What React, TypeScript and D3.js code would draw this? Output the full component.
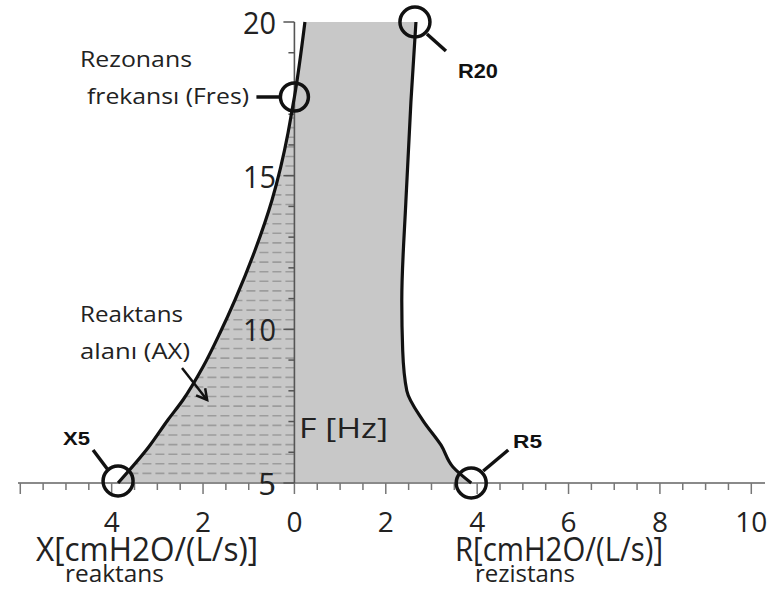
import React from "react";
import * as d3 from "d3";

const W = 771;
const H = 589;

// Reactance X (cmH2O/(L/s)) vs frequency (Hz)
const freqX = [5, 6.17, 7.05, 7.7, 8.78, 9.88, 10.96, 12.58, 14.21, 15.28, 16.39, 17.14, 17.56, 20];
const reactance = [-3.86, -3.19, -2.77, -2.44, -2.0, -1.63, -1.3, -0.86, -0.49, -0.3, -0.14, -0.05, 0, 0.23];

// Resistance R (cmH2O/(L/s)) vs frequency (Hz)
const freqR = [5, 5.52, 6.23, 7.04, 8.0, 9.31, 10.93, 14.17, 17.4, 20];
const resistance = [3.87, 3.47, 3.21, 2.81, 2.46, 2.37, 2.35, 2.44, 2.55, 2.66];

const xTickLabels = [-4, -2, 0, 2, 4, 6, 8, 10];
const yTickLabels = [5, 10, 15, 20];

const FONT = "'Open Sans', 'DejaVu Sans', sans-serif";
const BOLD = "'Liberation Sans', Arial, sans-serif";

export default function App() {
  const x = d3.scaleLinear().domain([-6.05, 10.3]).range([18, 765]);
  const y = d3.scaleLinear().domain([5, 20]).range([483, 22]);

  const reactPts: [number, number][] = freqX.map((f, i) => [reactance[i], f]);
  const resPts: [number, number][] = freqR.map((f, i) => [resistance[i], f]);

  const line = d3
    .line<[number, number]>()
    .x((d) => x(d[0]))
    .y((d) => y(d[1]))
    .curve(d3.curveMonotoneY);

  const reactPath = line(reactPts) as string;
  const resPath = line(resPts) as string;
  const fillPath =
    reactPath + (line(resPts.slice().reverse()) as string).replace(/^M/, "L") + "Z";

  const hatchPts = reactPts.filter((p) => p[0] <= 0);
  const hatchClip = (line(hatchPts) as string) + `L${x(0)},${y(5)}Z`;
  const hatchF = d3.range(5, 20.001, 0.3125);

  const xTicks = d3.range(-6, 10.001, 0.5);
  const yTicks = d3.range(5, 20.001, 1);

  // key points
  const x5 = [x(reactance[0]), y(freqX[0])];
  const fres = [x(0), y(freqX[reactance.indexOf(0)])];
  const r5 = [x(resistance[0]), y(freqR[0])];
  const r20 = [x(resistance[resistance.length - 1]), y(freqR[freqR.length - 1])];

  // arrow
  const a0 = [x(-2.46), y(8.74)];
  const a1 = [x(-1.91), y(7.7)];
  const ang = Math.atan2(a1[1] - a0[1], a1[0] - a0[0]);
  const hl = 12;
  const h1 = [a1[0] - hl * Math.cos(ang - 0.5), a1[1] - hl * Math.sin(ang - 0.5)];
  const h2 = [a1[0] - hl * Math.cos(ang + 0.5), a1[1] - hl * Math.sin(ang + 0.5)];

  const ink = "#111";

  return (
    <svg
      width={W}
      height={H}
      style={{ position: "absolute", left: 0, top: 0, background: "#fff" }}
    >
      <defs>
        <clipPath id="hatchClip">
          <path d={hatchClip} />
        </clipPath>
      </defs>

      {/* gray area */}
      <path d={fillPath} fill="#c8c8c8" stroke="none" />

      {/* hatch */}
      <g clipPath="url(#hatchClip)">
        {hatchF.map((f) => (
          <line
            key={f}
            x1={x(0)}
            x2={x(-6.05)}
            y1={y(f)}
            y2={y(f)}
            stroke="#9c9c9c"
            strokeWidth={1.6}
            strokeDasharray="9 4"
          />
        ))}
      </g>

      {/* x axis */}
      <line x1={18} x2={765} y1={y(5)} y2={y(5)} stroke="#8a8a8a" strokeWidth={2} />
      {xTicks.map((t) => {
        const major = Math.abs(t % 2) < 1e-6;
        return (
          <line
            key={t}
            x1={x(t)}
            x2={x(t)}
            y1={y(5)}
            y2={y(5) + (major ? 11 : 7)}
            stroke="#777"
            strokeWidth={1.5}
          />
        );
      })}
      {xTickLabels.map((t) => (
        <text
          key={t}
          x={x(t)}
          y={532}
          textAnchor="middle"
          fontFamily={FONT}
          fontSize={28}
          fill="#222"
        >
          {Math.abs(t)}
        </text>
      ))}

      {/* y axis */}
      <line x1={x(0)} x2={x(0)} y1={y(20)} y2={y(5)} stroke="#555" strokeWidth={1.6} />
      {yTicks.map((t) => {
        const major = t % 5 === 0;
        return (
          <line
            key={t}
            x1={x(0)}
            x2={x(0) - (major ? 11 : 6)}
            y1={y(t)}
            y2={y(t)}
            stroke="#555"
            strokeWidth={1.5}
          />
        );
      })}
      {yTickLabels.map((t) => (
        <text
          key={t}
          x={276}
          y={y(t) + 12}
          textAnchor="end"
          fontFamily={FONT}
          fontSize={31}
          fill="#222"
          textLength={t >= 10 ? 33 : undefined}
          lengthAdjust="spacingAndGlyphs"
        >
          {t}
        </text>
      ))}

      {/* curves */}
      <path d={reactPath} fill="none" stroke={ink} strokeWidth={3.2} />
      <path d={resPath} fill="none" stroke={ink} strokeWidth={3.2} />

      {/* circles */}
      <circle cx={x5[0]} cy={x5[1] - 2} r={15} fill="none" stroke={ink} strokeWidth={3.5} />
      <circle cx={fres[0]} cy={fres[1]} r={14} fill="none" stroke={ink} strokeWidth={3.5} />
      <circle cx={r5[0]} cy={r5[1]} r={15} fill="none" stroke={ink} strokeWidth={3.5} />
      <circle cx={r20[0] - 1} cy={r20[1]} r={15} fill="none" stroke={ink} strokeWidth={3.5} />

      {/* leader lines */}
      <line x1={x5[0] - 25} y1={x5[1] - 33} x2={x5[0] - 10} y2={x5[1] - 13} stroke={ink} strokeWidth={3.5} />
      <line x1={fres[0] - 38} y1={fres[1]} x2={fres[0] - 14} y2={fres[1]} stroke={ink} strokeWidth={3.5} />
      <line x1={r5[0] + 12} y1={r5[1] - 12} x2={r5[0] + 37} y2={r5[1] - 33} stroke={ink} strokeWidth={3.5} />
      <line x1={r20[0] + 11} y1={r20[1] + 12} x2={r20[0] + 30} y2={r20[1] + 29} stroke={ink} strokeWidth={3.5} />

      {/* arrow */}
      <line x1={a0[0]} y1={a0[1]} x2={a1[0]} y2={a1[1]} stroke={ink} strokeWidth={2.5} />
      <polyline
        points={`${h1[0]},${h1[1]} ${a1[0]},${a1[1]} ${h2[0]},${h2[1]}`}
        fill="none"
        stroke={ink}
        strokeWidth={2.5}
      />

      {/* annotations */}
      <text x={80} y={67} fontFamily={FONT} fontSize={21} fill="#222" textLength={112} lengthAdjust="spacingAndGlyphs">
        Rezonans
      </text>
      <text x={87} y={104} fontFamily={FONT} fontSize={21} fill="#222" textLength={162} lengthAdjust="spacingAndGlyphs">
        frekansı (Fres)
      </text>
      <text x={80} y={322} fontFamily={FONT} fontSize={21} fill="#222" textLength={103} lengthAdjust="spacingAndGlyphs">
        Reaktans
      </text>
      <text x={80} y={359} fontFamily={FONT} fontSize={21} fill="#222" textLength={110} lengthAdjust="spacingAndGlyphs">
        alanı (AX)
      </text>
      <text x={299} y={438} fontFamily={FONT} fontSize={28} fill="#222" textLength={89} lengthAdjust="spacingAndGlyphs">
        F [Hz]
      </text>

      <text x={63} y={445} fontFamily={BOLD} fontWeight="bold" fontSize={18} fill={ink} textLength={27} lengthAdjust="spacingAndGlyphs">
        X5
      </text>
      <text x={513} y={448} fontFamily={BOLD} fontWeight="bold" fontSize={18} fill={ink} textLength={29} lengthAdjust="spacingAndGlyphs">
        R5
      </text>
      <text x={458} y={78} fontFamily={BOLD} fontWeight="bold" fontSize={20} fill={ink} textLength={40} lengthAdjust="spacingAndGlyphs">
        R20
      </text>

      {/* axis titles */}
      <text x={36} y={561} fontFamily={FONT} fontSize={32} fill="#222" textLength={222} lengthAdjust="spacingAndGlyphs">
        X[cmH2O/(L/s)]
      </text>
      <text x={65} y={582} fontFamily={FONT} fontSize={23} fill="#222" textLength={99} lengthAdjust="spacingAndGlyphs">
        reaktans
      </text>
      <text x={455} y={561} fontFamily={FONT} fontSize={32} fill="#222" textLength={208} lengthAdjust="spacingAndGlyphs">
        R[cmH2O/(L/s)]
      </text>
      <text x={475} y={582} fontFamily={FONT} fontSize={23} fill="#222" textLength={100} lengthAdjust="spacingAndGlyphs">
        rezistans
      </text>
    </svg>
  );
}
